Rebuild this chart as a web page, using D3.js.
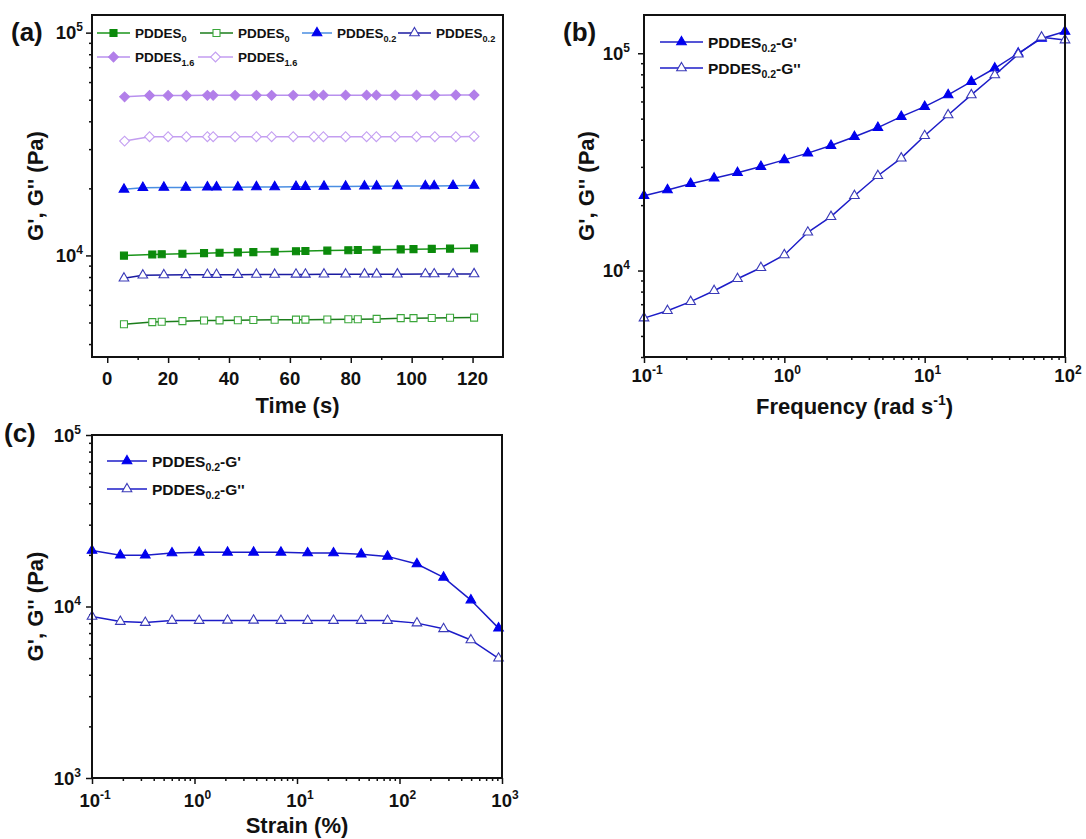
<!DOCTYPE html>
<head>
<meta charset="utf-8">
<script src="https://d3js.org/d3.v7.min.js"></script>
<style>
body { margin: 0; background: #fff; }
text { font-family: "Liberation Sans", Arial, sans-serif; font-weight: bold; fill: #111; }
.tick line { stroke: #111; stroke-width: 1.5; }
.domain { display: none; }
</style>
</head>
<body>
<svg width="1086" height="839"></svg>
<script>
// ---- panel (a): time sweep ----
var tSquare   = [5.5, 14.8, 17.9, 24.7, 31.8, 36.9, 42.9, 48.0, 55.0, 62.0, 65.1, 72.3, 79.2, 82.3, 88.5, 96.4, 100.6, 106.6, 112.6, 120.5];
var tTriangle = [5.5, 11.7, 18.6, 25.8, 32.9, 35.9, 42.9, 49.0, 55.0, 62.0, 65.1, 71.2, 78.3, 84.5, 88.5, 95.3, 104.5, 107.4, 113.6, 120.5];
var tDiamond  = [5.7, 13.9, 20.0, 26.0, 32.9, 34.8, 42.0, 49.0, 54.0, 61.1, 67.9, 71.0, 78.3, 85.2, 88.4, 94.6, 101.6, 107.6, 114.5, 120.5];

var gp0   = [9980, 10100, 10130, 10180, 10240, 10280, 10320, 10350, 10390, 10440, 10460, 10510, 10550, 10570, 10600, 10640, 10670, 10700, 10730, 10760];
var gpp0  = [4910, 5020, 5040, 5070, 5100, 5110, 5120, 5130, 5140, 5150, 5150, 5160, 5170, 5170, 5190, 5230, 5230, 5240, 5250, 5260];
var gp02  = [19800, 20150, 20200, 20200, 20250, 20250, 20250, 20300, 20300, 20350, 20350, 20400, 20400, 20450, 20450, 20500, 20500, 20500, 20550, 20600];
var gpp02 = [7900, 8150, 8170, 8180, 8200, 8200, 8200, 8210, 8210, 8220, 8220, 8230, 8230, 8240, 8240, 8240, 8250, 8250, 8250, 8260];
var gp16  = [51500, 52200, 52200, 52200, 52300, 52300, 52300, 52300, 52300, 52300, 52300, 52400, 52400, 52400, 52400, 52400, 52400, 52400, 52500, 52500];
var gpp16 = [32600, 34100, 34100, 34100, 34100, 34100, 34100, 34100, 34100, 34100, 34100, 34100, 34100, 34100, 34100, 34100, 34100, 34100, 34100, 34200];
var timeTicks = [0, 20, 40, 60, 80, 100, 120];

// ---- panel (b): frequency sweep ----
var freq     = [0.1, 0.147, 0.215, 0.316, 0.464, 0.681, 1, 1.47, 2.15, 3.16, 4.64, 6.81, 10, 14.7, 21.5, 31.6, 46.4, 68.1, 100];
var gPrimeB  = [22100, 23500, 25100, 26600, 28200, 30100, 32300, 34700, 37600, 41300, 45500, 51100, 56800, 64300, 74000, 85300, 100000, 117000, 126000];
var gDoubleB = [6040, 6530, 7190, 8070, 9170, 10300, 11800, 15000, 17700, 22100, 27300, 32900, 41700, 52000, 64300, 79400, 99000, 118500, 115000];

// ---- panel (c): strain sweep ----
var strain   = [0.1, 0.189, 0.331, 0.603, 1.11, 2.1, 3.77, 6.97, 12.7, 22.7, 42.3, 76.4, 148, 269, 497, 925];
var gPrimeC  = [21200, 19900, 19900, 20500, 20700, 20700, 20700, 20700, 20500, 20500, 20200, 19600, 17700, 14800, 10900, 7480];
var gDoubleC = [8740, 8170, 8060, 8280, 8280, 8300, 8300, 8280, 8280, 8280, 8280, 8280, 8000, 7410, 6380, 4990];

var svg = d3.select("svg");
var TICK_FS = 18.5, SUP_FS = 12, TITLE_FS = 22;

function decades(lo, hi) { var a = []; for (var e = lo; e <= hi; e++) a.push(Math.pow(10, e)); return a; }
function minors(lo, hi, dom) {
  var a = [];
  for (var e = lo; e <= hi; e++) for (var k = 2; k <= 9; k++) {
    var v = k * Math.pow(10, e);
    if (v >= dom[0] && v <= dom[1]) a.push(v);
  }
  return a;
}

var shapes = {
  square: d3.symbol().type(d3.symbolSquare).size(49)(),
  triangle: d3.symbol().type(d3.symbolTriangle).size(40)(),
  diamond: d3.symbol().type(d3.symbolSquare).size(48)()
};

function marker(g, s, cx, cy) {
  var p = g.append("path").attr("d", shapes[s.shape])
    .attr("transform", "translate(" + cx + "," + cy + ")" + (s.shape == "diamond" ? " rotate(45)" : ""))
    .attr("stroke-width", 1.1);
  if (s.filled) p.attr("fill", s.color).attr("stroke", s.color);
  else p.attr("fill", "#fff").attr("stroke", s.mstroke || s.color);
}

function powLabel(g, x, y, exp, anchor) {
  var t = g.append("text").attr("x", x).attr("y", y).attr("text-anchor", anchor).style("font-size", TICK_FS + "px");
  t.append("tspan").text("10");
  t.append("tspan").attr("dy", -8).style("font-size", SUP_FS + "px").text(exp);
}

function legendLabel(g, x, y, base, sub, suffix, fs) {
  var t = g.append("text").attr("x", x).attr("y", y + fs * 0.36).style("font-size", fs + "px");
  t.append("tspan").text(base);
  t.append("tspan").attr("dy", fs * 0.3).style("font-size", (fs * 0.68) + "px").text(sub);
  if (suffix) t.append("tspan").attr("dy", -fs * 0.3).text(suffix);
}

function drawPanel(p) {
  var g = svg.append("g");
  var x = p.x, y = p.y;

  // y axis major / minor
  g.append("g").attr("transform", "translate(" + p.left + ",0)")
    .call(d3.axisLeft(y).tickValues(p.yMajor).tickSize(6).tickFormat(""));
  g.append("g").attr("transform", "translate(" + p.left + ",0)")
    .call(d3.axisLeft(y).tickValues(p.yMinor).tickSize(3).tickFormat(""));
  // x axis
  g.append("g").attr("transform", "translate(0," + p.bottom + ")")
    .call(d3.axisBottom(x).tickValues(p.xMajor).tickSize(6).tickFormat(""));
  g.append("g").attr("transform", "translate(0," + p.bottom + ")")
    .call(d3.axisBottom(x).tickValues(p.xMinor).tickSize(3).tickFormat(""));

  p.yMajor.forEach(function(v) {
    powLabel(g, p.left - p.yLabGap, y(v) + 6.5, String(Math.round(Math.log10(v))), "end");
  });
  p.xMajor.forEach(function(v) {
    if (p.xLinear) {
      g.append("text").attr("x", x(v)).attr("y", p.bottom + p.xLabOff)
        .attr("text-anchor", "middle").style("font-size", TICK_FS + "px").text(v);
    } else {
      powLabel(g, x(v) + 3, p.bottom + p.xLabOff, String(Math.round(Math.log10(v))), "middle");
    }
  });

  // series
  p.series.forEach(function(s) {
    var pts = s.xs.map(function(d, i) { return [x(d), y(s.ys[i])]; });
    g.append("path").attr("d", d3.line()(pts)).attr("fill", "none")
      .attr("stroke", s.line).attr("stroke-width", 1.5);
    pts.forEach(function(q) { marker(g, s, q[0], q[1]); });
  });

  // frame
  g.append("rect").attr("x", p.left).attr("y", p.top)
    .attr("width", p.right - p.left).attr("height", p.bottom - p.top)
    .attr("fill", "none").attr("stroke", "#111").attr("stroke-width", 2);

  // legend
  p.legend.forEach(function(L) {
    var s = p.series[L.i];
    g.append("line").attr("x1", L.x).attr("x2", L.x + L.len).attr("y1", L.y).attr("y2", L.y)
      .attr("stroke", s.line).attr("stroke-width", 1.5);
    marker(g, s, L.x + L.len / 2, L.y);
    legendLabel(g, L.x + L.len + 5, L.y, "PDDES", s.sub, s.suffix, p.legFont);
  });

  // titles
  var xt = g.append("text").attr("x", (p.left + p.right) / 2).attr("y", p.xTitleY)
    .attr("text-anchor", "middle").style("font-size", TITLE_FS + "px");
  xt.append("tspan").text(p.xTitle[0]);
  if (p.xTitle.length > 1) {
    xt.append("tspan").attr("dy", -9).style("font-size", "14px").text(p.xTitle[1]);
    xt.append("tspan").attr("dy", 9).text(p.xTitle[2]);
  }
  g.append("text").attr("transform", "translate(" + p.yTitleX + "," + ((p.top + p.bottom) / 2) + ") rotate(-90)")
    .attr("text-anchor", "middle").style("font-size", TITLE_FS + "px").text("G', G'' (Pa)");
  g.append("text").attr("x", p.tagX).attr("y", p.tagY).style("font-size", "26px").text(p.tag);
}

var green = "#0b8a0b", blue = "#0000ee", purple = "#b27fe9";

// panel (a)
var aDom = [3500, 120000];
drawPanel({
  left: 92, right: 503, top: 15, bottom: 357,
  x: d3.scaleLinear().domain([-5, 130]).range([92, 503]),
  y: d3.scaleLog().domain(aDom).range([357, 15]),
  xLinear: true, xMajor: timeTicks, xMinor: [10, 30, 50, 70, 90, 110],
  yMajor: [1e4, 1e5], yMinor: minors(3, 5, aDom), yLabGap: 9, xLabOff: 28,
  xTitle: ["Time (s)"], xTitleY: 413, yTitleX: 43, tag: "(a)", tagX: 11, tagY: 41,
  legFont: 13.5,
  series: [
    { xs: tSquare, ys: gp0, shape: "square", filled: true, color: green, line: "#1a951a", sub: "0" },
    { xs: tSquare, ys: gpp0, shape: "square", filled: false, color: green, mstroke: "#3aa63a", line: "#1b7d1b", sub: "0" },
    { xs: tTriangle, ys: gp02, shape: "triangle", filled: true, color: blue, line: "#4a8ee2", sub: "0.2" },
    { xs: tTriangle, ys: gpp02, shape: "triangle", filled: false, color: "#3a3ab8", line: "#1a1aa0", sub: "0.2" },
    { xs: tDiamond, ys: gp16, shape: "diamond", filled: true, color: purple, line: "#b890ee", sub: "1.6" },
    { xs: tDiamond, ys: gpp16, shape: "diamond", filled: false, color: "#c49ff2", line: "#c39df0", sub: "1.6" }
  ],
  legend: [
    { i: 0, x: 97, y: 33, len: 33 }, { i: 1, x: 200, y: 33, len: 33 },
    { i: 2, x: 302, y: 33, len: 30 }, { i: 3, x: 398, y: 33, len: 33 },
    { i: 4, x: 97, y: 57, len: 33 }, { i: 5, x: 198, y: 57, len: 35 }
  ]
});

// panel (b)
var bDom = [4000, 150000];
drawPanel({
  left: 644, right: 1065, top: 15, bottom: 357,
  x: d3.scaleLog().domain([0.1, 100]).range([644, 1065]),
  y: d3.scaleLog().domain(bDom).range([357, 15]),
  xMajor: decades(-1, 2), xMinor: minors(-1, 1, [0.1, 100]),
  yMajor: [1e4, 1e5], yMinor: minors(3, 5, bDom), yLabGap: 14, xLabOff: 25,
  xTitle: ["Frequency (rad s", "-1", ")"], xTitleY: 414, yTitleX: 594, tag: "(b)", tagX: 563, tagY: 41,
  legFont: 15.5,
  series: [
    { xs: freq, ys: gPrimeB, shape: "triangle", filled: true, color: blue, line: "#1c1cc8", sub: "0.2", suffix: "-G'" },
    { xs: freq, ys: gDoubleB, shape: "triangle", filled: false, color: "#3a3ab8", line: "#1c1cc8", sub: "0.2", suffix: "-G''" }
  ],
  legend: [ { i: 0, x: 660, y: 42, len: 43 }, { i: 1, x: 660, y: 68, len: 43 } ]
});

// panel (c)
var cDom = [1000, 100000];
drawPanel({
  left: 92, right: 502, top: 435, bottom: 778,
  x: d3.scaleLog().domain([0.1, 1000]).range([92, 502]),
  y: d3.scaleLog().domain(cDom).range([778, 435]),
  xMajor: decades(-1, 3), xMinor: minors(-1, 2, [0.1, 1000]),
  yMajor: [1e3, 1e4, 1e5], yMinor: minors(3, 4, cDom), yLabGap: 11, xLabOff: 29,
  xTitle: ["Strain (%)"], xTitleY: 833, yTitleX: 43, tag: "(c)", tagX: 4, tagY: 442,
  legFont: 15.5,
  series: [
    { xs: strain, ys: gPrimeC, shape: "triangle", filled: true, color: blue, line: "#1c1cc8", sub: "0.2", suffix: "-G'" },
    { xs: strain, ys: gDoubleC, shape: "triangle", filled: false, color: "#3a3ab8", line: "#1c1cc8", sub: "0.2", suffix: "-G''" }
  ],
  legend: [ { i: 0, x: 107, y: 461, len: 40 }, { i: 1, x: 107, y: 489, len: 40 } ]
});
</script>
</body>
